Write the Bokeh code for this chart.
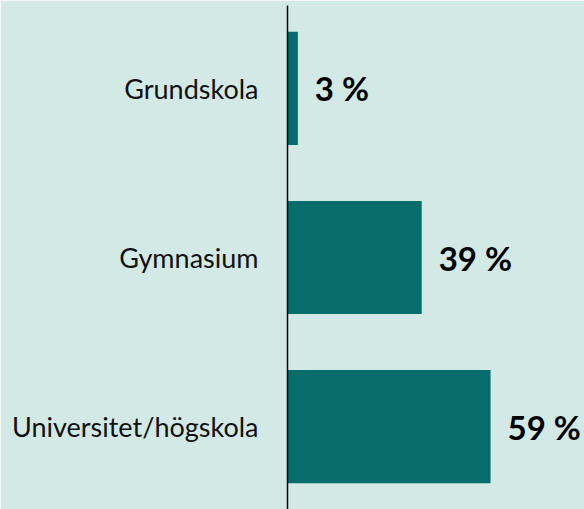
from bokeh.plotting import figure
from bokeh.models import FactorRange, Range1d, ColumnDataSource, LabelSet
from bokeh.core.properties import value
from bokeh.embed import file_html
from bokeh.resources import INLINE

categories = ["Grundskola", "Gymnasium", "Universitet/högskola"]
values = [3, 39, 59]
labels = ["3 %", "39 %", "59 %"]

BG = "#d2e9e6"
BAR = "#076d6c"

src = ColumnDataSource(dict(cat=categories, val=values, lab=labels))

yr = FactorRange(factors=list(reversed(categories)), range_padding=-0.006, range_padding_units="percent")
p = figure(width=584, height=509, y_range=yr, x_range=Range1d(0, 86.3),
           output_backend="svg", toolbar_location=None,
           min_border_left=287, min_border_right=0, min_border_top=5, min_border_bottom=0)
p.background_fill_color = BG
p.border_fill_color = BG
p.outline_line_color = None
p.grid.visible = False
p.xaxis.visible = False

p.hbar(y="cat", right="val", left=0, height=0.67, source=src, color=BAR, line_color=None)

ya = p.yaxis[0]
ya.axis_line_color = "black"
ya.axis_line_width = 1.5
ya.major_tick_line_color = None
ya.minor_tick_line_color = None
ya.major_label_text_font = "Lato"
ya.major_label_text_font_size = "27px"
ya.major_label_text_color = "#111111"
ya.major_label_standoff = 23

lbl = LabelSet(x="val", y="cat", text="lab", source=src, x_offset=17,
               text_font=value("Lato"), text_font_size="33px", text_font_style="bold",
               text_color="#000000", text_baseline="middle", text_align="left")
p.add_layout(lbl)

html = file_html(p, INLINE)
html = html.replace("<body>", '<body style="background:%s">' % BG, 1)
open("out.html", "w").write(html)
